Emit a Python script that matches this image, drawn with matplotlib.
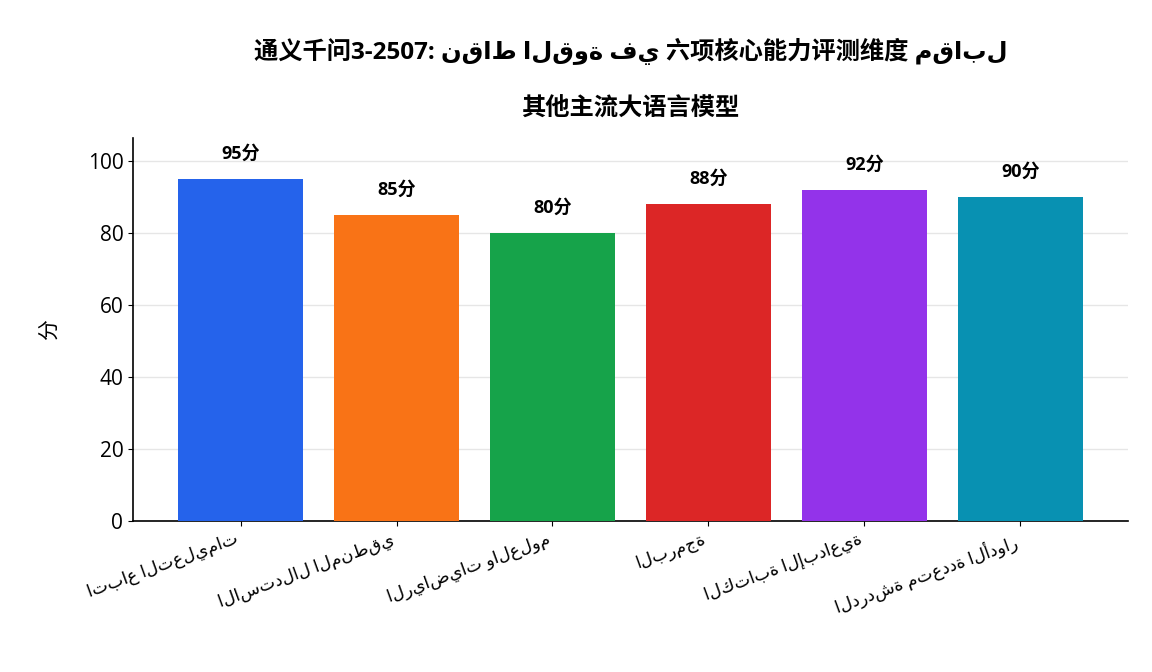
import matplotlib
matplotlib.use("Agg")
import matplotlib.pyplot as plt

categories = ["اتباع التعليمات", "الاستدلال المنطقي", "الرياضيات والعلوم",
              "البرمجة", "الكتابة الإبداعية", "الدردشة متعددة الأدوار"]
scores = [95, 85, 80, 88, 92, 90]
colors = ["#2563EB", "#F97316", "#16A34A", "#DC2626", "#9333EA", "#0891B2"]
unit = "分"
title = "通义千问3-2507: نقاط القوة في 六项核心能力评测维度 مقابل\n其他主流大语言模型"

plt.rcParams['font.family'] = ['Open Sans', 'DejaVu Sans', 'Noto Sans CJK SC']

fig = plt.figure(figsize=(11.52, 6.72), dpi=100)
ax = fig.add_axes([0.1155, 0.2247, 0.8635, 0.57])

bars = ax.bar(categories, scores, color=colors, width=0.8, zorder=3)
for bar, s in zip(bars, scores):
    ax.text(bar.get_x() + bar.get_width() / 2, s + 4.6, f"{s}{unit}",
            ha='center', va='bottom', fontsize=13, fontweight='bold')

ax.set_ylim(0, 106.5)
ax.set_yticks(range(0, 101, 20))
ax.set_ylabel(unit, fontsize=15, labelpad=20)
ax.set_title(title, fontsize=17.5, fontweight='bold', pad=16, linespacing=2.8)

ax.yaxis.grid(True, color='#e6e6e6', linewidth=1)
ax.set_axisbelow(True)
for side in ['top', 'right']:
    ax.spines[side].set_visible(False)
for side in ['left', 'bottom']:
    ax.spines[side].set_linewidth(1.2)

ax.tick_params(axis='y', labelsize=15)
ax.tick_params(axis='x', labelsize=12.5)
plt.setp(ax.get_xticklabels(), rotation=20, ha='right')

plt.savefig('out.png')
